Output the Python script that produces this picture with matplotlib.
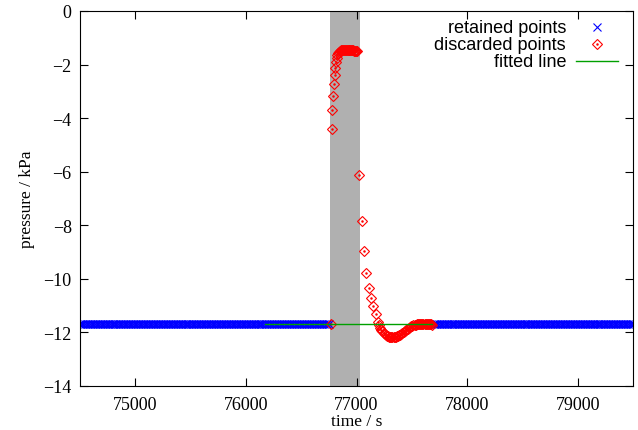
import matplotlib

matplotlib.use("Agg")
import matplotlib.pyplot as plt
import numpy as np

# retained points: flat baseline either side of the event
retained_level = -11.7
retained_step = 15
retained_before = (74500, 76760)
retained_after = (77700, 79500)

# discarded points (time / s, pressure / kPa)
discarded_time = [
    76768, 76776, 76783, 76789, 76796, 76803, 76810, 76816, 76822, 76828,
    76834, 76841, 76848, 76856, 76864, 76872, 76880, 76888, 76896, 76904,
    76912, 76920, 76928, 76936, 76944, 76952, 76960, 76968, 76976, 76984,
    76992, 77000,
    77026, 77050, 77071, 77089, 77110, 77131, 77152, 77173, 77194,
    77205, 77215, 77225, 77235, 77245, 77255, 77265, 77275, 77285, 77295,
    77305, 77315, 77325, 77335, 77345, 77355, 77365, 77375, 77385, 77395,
    77405, 77415, 77425, 77435, 77445, 77455, 77465, 77475, 77485, 77495,
    77505, 77515, 77525, 77535, 77545, 77555, 77565, 77575, 77585, 77595,
    77605, 77615, 77625, 77635, 77645, 77655, 77665, 77675, 77685,
]
discarded_pressure = [
    -11.70, -4.40, -3.69, -3.17, -2.72, -2.39, -2.12, -1.91, -1.76, -1.66,
    -1.58, -1.53, -1.50, -1.48, -1.47, -1.46, -1.45, -1.45, -1.44, -1.44,
    -1.44, -1.44, -1.44, -1.45, -1.45, -1.45, -1.46, -1.47, -1.48, -1.48,
    -1.49, -1.49,
    -6.12, -7.83, -8.97, -9.78, -10.33, -10.72, -11.02, -11.33, -11.60,
    -11.74, -11.83, -11.90, -11.96, -12.01, -12.06, -12.10, -12.13, -12.15, -12.17,
    -12.18, -12.18, -12.18, -12.18, -12.17, -12.16, -12.15, -12.13, -12.11, -12.09,
    -12.06, -12.03, -11.99, -11.96, -11.92, -11.89, -11.86, -11.83, -11.80, -11.77,
    -11.75, -11.74, -11.72, -11.71, -11.70, -11.69, -11.68, -11.68, -11.68, -11.68,
    -11.68, -11.68, -11.68, -11.68, -11.69, -11.69, -11.70, -11.70, -11.71,
]

# fitted line
fit_time = [76170, 77680]
fit_pressure = [-11.7, -11.7]

# excluded window
shade_span = (76760, 77028)

x_ticks = [75000, 76000, 77000, 78000, 79000]
y_ticks = [0, -2, -4, -6, -8, -10, -12, -14]

BLUE = "#0000ff"
RED = "#ff0000"
GREEN = "#00a000"
SERIF = "Liberation Serif"
SANS = "Liberation Sans"


def draw_legend(ax):
    rows = [0.957, 0.912, 0.866]
    text_x = 0.879
    mark_x = 0.935
    labels = ["retained points", "discarded points", "fitted line"]
    for y, label in zip(rows, labels):
        ax.text(text_x, y, label, transform=ax.transAxes, ha="right",
                va="center", fontsize=13, family=SANS)
    ax.plot([mark_x], [rows[0]], transform=ax.transAxes, marker="x",
            color=BLUE, ms=5.5, mew=0.8, ls="none", clip_on=False)
    ax.plot([mark_x], [rows[1]], transform=ax.transAxes, marker="D",
            color=RED, mfc="none", ms=4.8, mew=0.8, ls="none", clip_on=False)
    ax.plot([mark_x], [rows[1]], transform=ax.transAxes, marker="o",
            color=RED, ms=0.8, ls="none", clip_on=False)
    ax.plot([0.897, 0.973], [rows[2], rows[2]], transform=ax.transAxes,
            color=GREEN, lw=1.0, clip_on=False)


def main():
    t_ret = np.concatenate([
        np.arange(retained_before[0], retained_before[1], retained_step),
        np.arange(retained_after[0], retained_after[1] + 1, retained_step),
    ])
    p_ret = np.full(t_ret.shape, retained_level)

    fig = plt.figure(figsize=(6.38, 4.31), dpi=100)
    ax = fig.add_axes([80 / 638, 1 - 387 / 431, 553 / 638, 375 / 431])

    ax.axvspan(*shade_span, color="#b0b0b0", lw=0, zorder=0)
    ax.plot(t_ret, p_ret, ls="none", marker="x", color=BLUE, ms=6, mew=0.9,
            zorder=2)
    ax.plot(discarded_time, discarded_pressure, ls="none", marker="D",
            color=RED, mfc="none", ms=4.8, mew=0.8, zorder=3)
    ax.plot(discarded_time, discarded_pressure, ls="none", marker="o",
            color=RED, ms=0.8, zorder=3)
    ax.plot(fit_time, fit_pressure, color=GREEN, lw=1.0, zorder=4)

    ax.set_xlim(74500, 79500)
    ax.set_ylim(-14, 0)
    ax.set_xticks(x_ticks)
    ax.set_yticks(y_ticks)
    ax.tick_params(direction="in", length=5.5, width=0.8, top=True,
                   right=True, labelsize=13)
    ax.tick_params(axis="x", pad=7)
    ax.tick_params(axis="y", pad=6)
    for lab in ax.get_xticklabels() + ax.get_yticklabels():
        lab.set_family(SERIF)
    for sp in ax.spines.values():
        sp.set_linewidth(0.8)

    ax.set_xlabel("time / s", family=SERIF, fontsize=12.5, labelpad=0)
    ax.set_ylabel("pressure / kPa", family=SERIF, fontsize=12.5, labelpad=6)

    draw_legend(ax)

    fig.savefig("out.png", dpi=100)
    plt.close(fig)


if __name__ == "__main__":
    main()
